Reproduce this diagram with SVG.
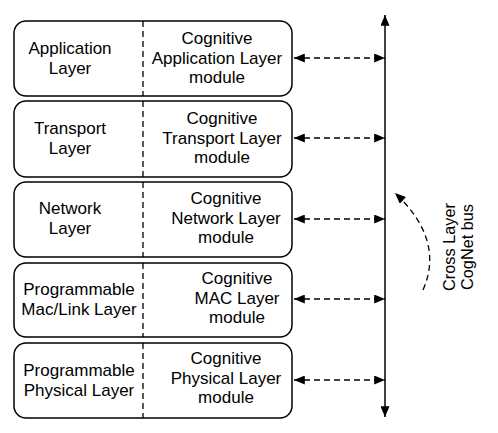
<svg xmlns="http://www.w3.org/2000/svg" width="498" height="433" viewBox="0 0 498 433">
<defs>
<style>
.box{fill:#fff;stroke:#000;stroke-width:1.5}
.div{stroke:#000;stroke-width:1.3;stroke-dasharray:6,4}
.t{font-family:"Liberation Sans",Arial,sans-serif;font-size:17px;fill:#000;text-anchor:middle}
.tb{font-family:"Liberation Sans",Arial,sans-serif;font-size:16.3px;fill:#000;text-anchor:middle}
.conn{stroke:#000;stroke-width:1.3;stroke-dasharray:6,4;fill:none;marker-start:url(#ah);marker-end:url(#ah)}
.bus{stroke:#000;stroke-width:1.5;fill:none;marker-start:url(#ah);marker-end:url(#ah)}
</style>
<marker id="ah" viewBox="0 0 12 10" refX="12" refY="5" markerWidth="12" markerHeight="9" markerUnits="userSpaceOnUse" orient="auto-start-reverse">
<path d="M0,0 L12,5 L0,10 z" fill="#000"/>
</marker>
</defs>
<g id="app">
<rect class="box" x="14" y="21" width="278" height="75" rx="12"/>
<line class="div" x1="143" y1="21" x2="143" y2="96"/>
<text class="t" x="70" y="54">Application</text>
<text class="t" x="70" y="74">Layer</text>
<text class="t" x="217" y="44">Cognitive</text>
<text class="t" x="217" y="63.5">Application Layer</text>
<text class="t" x="217" y="83">module</text>
</g>
<g id="transport">
<rect class="box" x="14" y="101" width="278" height="76" rx="12"/>
<line class="div" x1="143" y1="101" x2="143" y2="177"/>
<text class="t" x="70" y="134">Transport</text>
<text class="t" x="70" y="154">Layer</text>
<text class="t" x="222" y="124">Cognitive</text>
<text class="t" x="222" y="143.5">Transport Layer</text>
<text class="t" x="222" y="163">module</text>
</g>
<g id="network">
<rect class="box" x="14" y="182" width="278" height="75" rx="12"/>
<line class="div" x1="143" y1="182" x2="143" y2="257"/>
<text class="t" x="70" y="214">Network</text>
<text class="t" x="70" y="234">Layer</text>
<text class="t" x="226" y="204">Cognitive</text>
<text class="t" x="226" y="223.5">Network Layer</text>
<text class="t" x="226" y="243">module</text>
</g>
<g id="mac">
<rect class="box" x="14" y="263" width="278" height="74" rx="12"/>
<line class="div" x1="143" y1="263" x2="143" y2="337"/>
<text class="t" x="79" y="295">Programmable</text>
<text class="t" x="79" y="315">Mac/Link Layer</text>
<text class="t" x="237" y="284">Cognitive</text>
<text class="t" x="237" y="303.5">MAC Layer</text>
<text class="t" x="237" y="323">module</text>
</g>
<g id="physical">
<rect class="box" x="14" y="343" width="278" height="75" rx="12"/>
<line class="div" x1="143" y1="343" x2="143" y2="418"/>
<text class="t" x="79" y="376">Programmable</text>
<text class="t" x="79" y="396">Physical Layer</text>
<text class="t" x="226" y="364">Cognitive</text>
<text class="t" x="226" y="383.5">Physical Layer</text>
<text class="t" x="226" y="403">module</text>
</g>
<g id="bus">
<line class="bus" x1="385" y1="15" x2="385" y2="417"/>
<text class="tb" transform="translate(455,247) rotate(-90)">Cross Layer</text>
<text class="tb" transform="translate(473,247) rotate(-90)">CogNet bus</text>
</g>
<g id="connectors">
<line class="conn" x1="294" y1="58" x2="385" y2="58"/>
<line class="conn" x1="294" y1="138" x2="385" y2="138"/>
<line class="conn" x1="294" y1="219" x2="385" y2="219"/>
<line class="conn" x1="294" y1="299" x2="385" y2="299"/>
<line class="conn" x1="294" y1="380" x2="385" y2="380"/>
<path d="M423,290 Q445,240 395,193" stroke="#000" stroke-width="1.3" stroke-dasharray="6,4" fill="none" marker-end="url(#ah)"/>
</g>
</svg>
